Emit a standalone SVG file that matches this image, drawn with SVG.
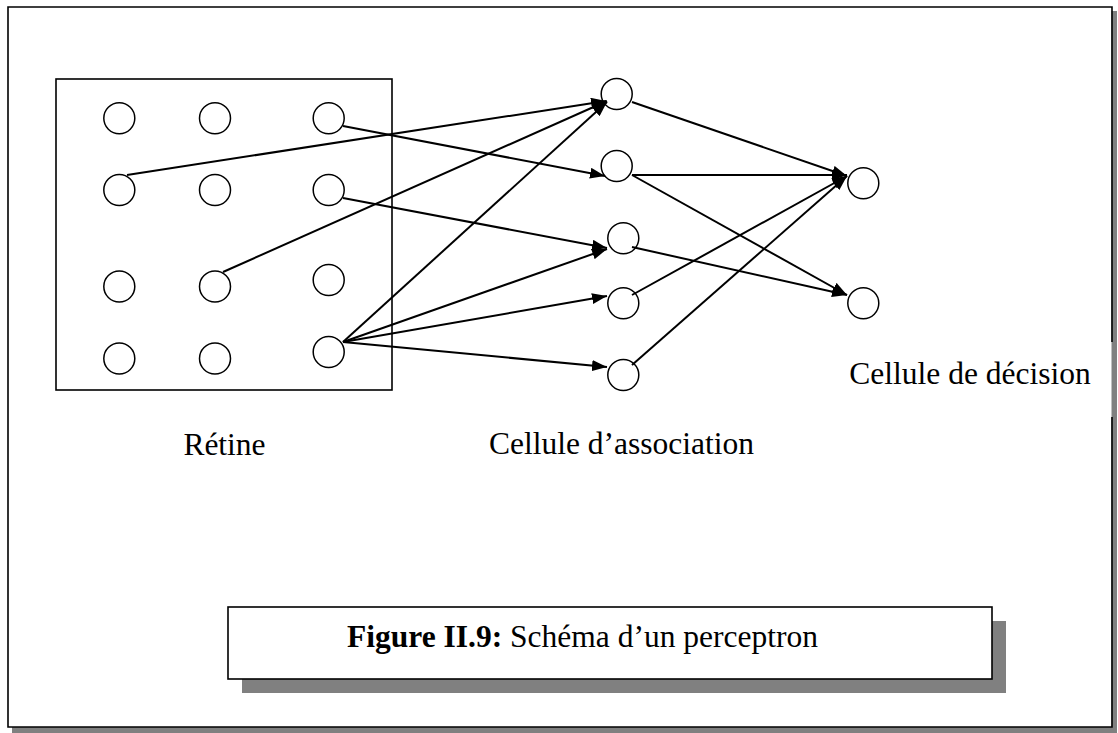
<svg xmlns="http://www.w3.org/2000/svg" width="1118" height="733" viewBox="0 0 1118 733">
<style>
.node{fill:#fff;stroke:#000;stroke-width:1.5}
.edge{stroke:#000;stroke-width:2;fill:none;marker-end:url(#arr)}
.lbl{font-family:"Liberation Serif","Times New Roman",serif;font-size:31.5px;fill:#000}
.frame{fill:none;stroke:#000;stroke-width:1.6}
.shadow{fill:#808080}
</style>
<defs>
<marker id="arr" markerUnits="userSpaceOnUse" viewBox="0 0 15 11" refX="15" refY="5.5" markerWidth="15" markerHeight="11" orient="auto">
<path d="M0,0 L15,5.5 L0,11 z" fill="#000"/>
</marker>
</defs>
<rect width="1118" height="733" fill="#fff"/>
<g id="outer-frame">
<rect class="shadow" x="12" y="11" width="1105" height="722"/>
<rect x="8" y="7" width="1103.5" height="720" fill="#fff"/>
<path class="frame" d="M1112,342 L1112,7 L8,7 L8,727 L1112,727 L1112,417"/>
</g>
<g id="retina">
<rect x="56" y="79" width="336" height="311" fill="none" stroke="#000" stroke-width="1.6"/>
<circle class="node" cx="119.3" cy="118.3" r="15.5"/>
<circle class="node" cx="215" cy="118.3" r="15.5"/>
<circle class="node" cx="328.7" cy="118.3" r="15.5"/>
<circle class="node" cx="119.3" cy="190" r="15.5"/>
<circle class="node" cx="215" cy="190" r="15.5"/>
<circle class="node" cx="328.7" cy="190" r="15.5"/>
<circle class="node" cx="119.3" cy="286.5" r="15.5"/>
<circle class="node" cx="215" cy="286.5" r="15.5"/>
<circle class="node" cx="328.7" cy="280" r="15.5"/>
<circle class="node" cx="119.3" cy="358.5" r="15.5"/>
<circle class="node" cx="215" cy="358.5" r="15.5"/>
<circle class="node" cx="328.7" cy="352" r="15.5"/>
</g>
<g id="association">
<circle class="node" cx="616.7" cy="94" r="15.5"/>
<circle class="node" cx="616.7" cy="166" r="15.5"/>
<circle class="node" cx="623.3" cy="238.3" r="15.5"/>
<circle class="node" cx="623.3" cy="303.3" r="15.5"/>
<circle class="node" cx="623.3" cy="375" r="15.5"/>
</g>
<g id="decision">
<circle class="node" cx="863.3" cy="183.3" r="15.5"/>
<circle class="node" cx="863.3" cy="303.3" r="15.5"/>
</g>
<g id="connectors">
<line class="edge" x1="127" y1="175" x2="606" y2="101"/>
<line class="edge" x1="343" y1="126" x2="605" y2="176"/>
<line class="edge" x1="343" y1="198" x2="607" y2="248"/>
<line class="edge" x1="223" y1="272" x2="607" y2="101"/>
<line class="edge" x1="343" y1="342" x2="607" y2="102"/>
<line class="edge" x1="343" y1="342" x2="607" y2="249"/>
<line class="edge" x1="343" y1="342" x2="607" y2="296"/>
<line class="edge" x1="343" y1="342" x2="607" y2="367"/>
<line class="edge" x1="632" y1="102" x2="847" y2="176"/>
<line class="edge" x1="632" y1="175" x2="847" y2="175"/>
<line class="edge" x1="632" y1="175" x2="847" y2="295"/>
<line class="edge" x1="632" y1="247" x2="847" y2="295"/>
<line class="edge" x1="632" y1="295" x2="847" y2="176"/>
<line class="edge" x1="632" y1="365" x2="847" y2="176"/>
</g>
<g id="labels">
<text class="lbl" x="224.5" y="455" text-anchor="middle">Rétine</text>
<text class="lbl" x="754" y="454" text-anchor="end">Cellule d’association</text>
<text class="lbl" x="970" y="384" text-anchor="middle">Cellule de décision</text>
</g>
<g id="caption">
<rect class="shadow" x="242" y="621" width="764" height="72"/>
<rect x="228" y="607" width="764" height="72" fill="#fff" stroke="#000" stroke-width="1.6"/>
<text class="lbl" x="347" y="647"><tspan font-weight="bold">Figure II.9:</tspan> Schéma d’un perceptron</text>
</g>
</svg>
